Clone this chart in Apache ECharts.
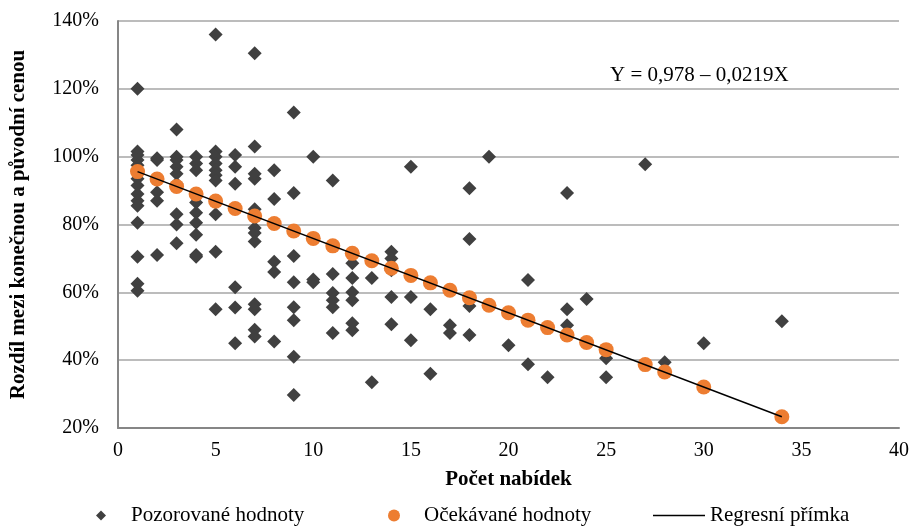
<!DOCTYPE html>
<html><head><meta charset="utf-8">
<script src="https://cdn.jsdelivr.net/npm/echarts@6/dist/echarts.min.js"></script>
<style>html,body{margin:0;padding:0;background:#fff}#c{width:912px;height:528px}</style>
</head><body><div id="c"></div>
<script>
// Observed values (x = počet nabídek, y = % )
const observed = [
 [1,120],[1,101.5],[1,100.5],[1,99],[1,97.5],[1,96],[1,93.5],[1,91.5],[1,89],[1,87],[1,85.5],[1,80.5],[1,70.5],[1,62.5],[1,60.5],
 [2,99.5],[2,99],[2,89.5],[2,87],[2,71],
 [3,108],[3,100],[3,99],[3,97],[3,95],[3,92],[3,83],[3,80],[3,74.5],
 [4,100],[4,98],[4,96],[4,89],[4,86.5],[4,83.5],[4,80.5],[4,77],[4,71],[4,70.5],
 [5,136],[5,101.5],[5,100],[5,98],[5,96],[5,94.5],[5,93],[5,83],[5,72],[5,55],
 [6,100.5],[6,97],[6,92],[6,61.5],[6,55.5],[6,45],
 [7,130.5],[7,103],[7,95],[7,93.5],[7,84.5],[7,82],[7,79],[7,77.5],[7,75],[7,56.5],[7,55],[7,49],[7,47],
 [8,96],[8,87.5],[8,69],[8,66],[8,45.5],
 [9,113],[9,89.3],[9,70.7],[9,63],[9,55.6],[9,51.8],[9,41],[9,29.7],
 [10,100],[10,63.8],[10,63],
 [11,93],[11,65.4],[11,59.8],[11,57.7],[11,55.6],[11,48],
 [12,68.6],[12,64.2],[12,60],[12,57.7],[12,50.9],[12,48.8],
 [13,64.2],[13,33.5],
 [14,72],[14,70],[14,66.5],[14,58.6],[14,50.6],
 [15,97],[15,58.6],[15,45.9],
 [16,55],[16,36],
 [17,50.3],[17,48],
 [18,90.7],[18,75.7],[18,56],[18,47.4],
 [19,100],
 [20,44.4],
 [21,63.6],[21,38.8],
 [22,35],
 [23,89.3],[23,55],[23,50.3],
 [24,58],
 [25,40.6],[25,35],
 [27,97.8],
 [28,39.4],
 [30,45],
 [34,51.5]
];
// Expected values on the regression line
const expectedX = [1,2,3,4,5,6,7,8,9,10,11,12,13,14,15,16,17,18,19,20,21,22,23,24,25,27,28,30,34];
const expectedY = [95.6,93.4,91.2,89.0,86.9,84.7,82.5,80.3,78.1,75.9,73.7,71.5,69.3,67.1,65.0,62.8,60.6,58.4,56.2,54.0,51.8,49.6,47.4,45.2,43.1,38.7,36.5,32.1,23.3];
// Regression line end points
const lineX = [1,34];
const lineY = [95.6,23.3];
const yTicks = [20,140,20];  // min, max, interval
const xTicks = [0,40,5];
const names = ['Pozorované hodnoty','Očekávané hodnoty','Regresní přímka'];
const equation = 'Y = 0,978 – 0,0219X';

const font = 'Liberation Serif';
const fs = 21;
const chart = echarts.init(document.getElementById('c'));
chart.setOption({
  animation:false,
  textStyle:{fontFamily:font,color:'#000'},
  grid:{left:118,right:9,top:21,bottom:100},
  xAxis:{type:'value',min:xTicks[0],max:xTicks[1],interval:xTicks[2],
    name:'Počet nabídek',nameLocation:'middle',nameGap:41,
    nameTextStyle:{fontFamily:font,fontWeight:'bold',fontSize:fs,color:'#000'},
    axisLine:{lineStyle:{color:'#868686',width:2}},axisTick:{show:false},
    axisLabel:{fontFamily:font,fontSize:20,color:'#000',margin:13},
    splitLine:{show:false}},
  yAxis:{type:'value',min:yTicks[0],max:yTicks[1],interval:yTicks[2],
    name:'Rozdíl mezi konečnou a původní cenou',nameLocation:'middle',nameGap:89,
    nameTextStyle:{fontFamily:font,fontWeight:'bold',fontSize:fs,color:'#000'},
    axisLine:{show:true,lineStyle:{color:'#868686',width:2}},axisTick:{show:false},
    axisLabel:{fontFamily:font,fontSize:20,color:'#000',margin:19,formatter:v=>v+'%'},
    splitLine:{lineStyle:{color:'#a6a6a6',width:1.5}}},
  legend:[
    {data:[{name:names[0],icon:'diamond'}],left:96,top:505,itemWidth:10,itemHeight:10,padding:0,
     textStyle:{fontFamily:font,fontSize:fs,color:'#000',padding:[0,0,0,20]}},
    {data:[{name:names[1],icon:'circle'}],left:388,top:505,itemWidth:12,itemHeight:12,padding:0,
     textStyle:{fontFamily:font,fontSize:fs,color:'#000',padding:[0,0,0,19]}},
    {data:[{name:names[2],icon:'rect'}],left:653,top:505,itemWidth:52,itemHeight:1.5,padding:0,
     textStyle:{fontFamily:font,fontSize:fs,color:'#000',padding:[0,0,0,0]}}
  ],
  graphic:[{type:'text',x:610,y:75,style:{text:equation,font:fs+'px "Liberation Serif"',fill:'#000',verticalAlign:'middle'}}],
  series:[
    {name:names[0],type:'scatter',symbol:'diamond',symbolSize:14,itemStyle:{color:'#404040',opacity:1},
     data:observed,z:2},
    {name:names[1],type:'scatter',symbol:'circle',symbolSize:15,itemStyle:{color:'#ED7D31',opacity:1},
     data:expectedX.map((x,i)=>[x,expectedY[i]]),z:3},
    {name:names[2],type:'line',symbol:'none',lineStyle:{color:'#000',width:1.5},itemStyle:{color:'#000'},
     data:lineX.map((x,i)=>[x,lineY[i]]),z:4}
  ]
});
</script></body></html>
